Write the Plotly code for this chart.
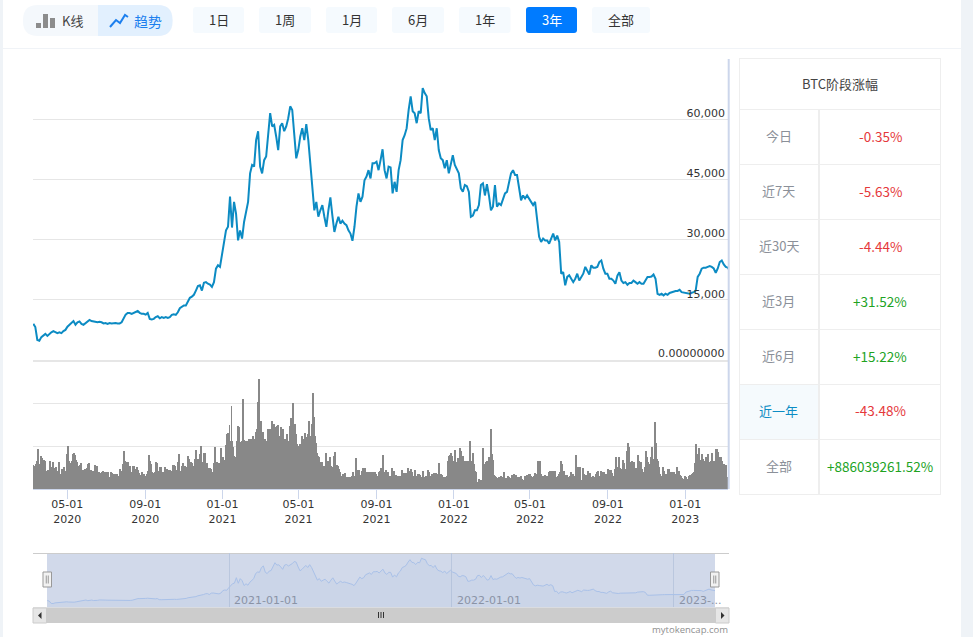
import pandas as pd
import plotly.graph_objects as go

W, H = 973, 637
CJK = "Noto Sans CJK SC"

price_k = [
9.0,8.2,5.0,4.8,5.7,6.1,6.5,6.0,6.5,6.9,7.2,6.9,6.7,6.9,6.7,7.2,7.5,8.3,8.75,9.0,9.7,8.8,9.4,9.6,9.0,8.75,9.2,9.8,10.0,9.7,
9.6,9.5,9.4,9.5,9.4,9.1,9.2,9.0,9.2,9.1,9.2,9.2,9.1,9.1,9.4,
10.2,11.3,11.7,11.7,11.5,11.7,11.9,12.2,11.75,11.5,11.5,11.3,11.7,10.25,10.1,10.25,10.7,10.9,10.4,10.7,10.5,10.7,10.5,10.7,11.25,11.4,11.25,11.9,12.9,13.3,13.6,13.6,14.4,15.5,15.8,16.25,17.3,18.4,18.6,17.3,19.25,19.4,19.0,18.8,18.2,19.4,22.75,23.6,23.2,26.5,29,32.3,33.2,40.7,33,39.4,36.5,29.8,32.3,30.25,34.4,37.3,39.4,46.5,48.6,48.2,54.8,57,48.2,46.5,49.8,50.7,55.7,61.5,58.2,58.6,55.7,52.3,58.2,59,57,58.2,60.25,63.2,62.3,55.7,50.25,52.3,55.7,57.75,54.8,58.8,54.8,49,44,37.3,39.4,35.7,37.3,38.6,35.7,33.2,37.3,40.5,36,31.9,34,35.7,34,34.7,34,33.6,32.3,31.5,29.7,33.2,38.2,41.5,39.4,40.7,44.8,45.7,47.3,45.25,49,49,49.4,47.3,49.8,
52.5,47.3,45.25,48.2,48,41.5,44.4,41.9,47.3,49.8,54.8,56,57.75,62.3,65.7,62,61.5,59,62,61.5,67.75,66.5,65.7,60.25,57.3,57.75,54.8,57.75,52.3,50.25,49.8,47.75,49.8,46.5,49,51,48.6,47.3,46.5,42.75,41.9,43.6,43.3,41.9,35.7,36,37.3,37.3,38.6,43.6,44,41,43.8,41,37.3,38.2,43.6,38.2,39,38.6,40.25,41.5,41.9,44,46.5,47.3,46.1,46.1,42.75,39.8,41,40.25,41,40.25,39.4,38.6,39.4,35.7,30.7,29.4,30.25,29.8,29.8,29,30.25,31.5,29.8,31,29.4,21.5,21.9,18.6,20.7,21.1,20.25,19.4,20.25,21.5,19.8,20.7,21.5,23.2,22.3,21.3,23.6,23,23,23.2,24.4,24.8,22.75,21.5,21.5,20.25,20.25,19.8,19,21,21.9,19.8,19.2,19.4,18.75,19.2,19.2,19.8,19.4,19,19.4,19,19,19.7,20.7,20.7,20.8,21.3,20.25,16.5,16.25,16.5,16.1,16.5,16.25,16.7,16.9,17.1,17.2,17.2,17.5,16.9,16.8,16.75,16.7,16.5,16.75,16.9,17.3,20.7,21.5,22.75,23,23,23.2,23.4,23.2,22.8,21.7,22.8,24.4,24.8,23.8,23.2,23,22.3]

# relative traded volume (the chart's lower panel carries no scale labels)
volume_a = [75,72,57,77,85,122,57,77,102,95,72,89,87,57,57,60,52,85,67,59,82,62,65,67,57,52,82,47,47,62,52,69,47,57,107,132,87,79,79,87,107,111,105,89,82,72,72,75,79,59,60,57,62,57,65,77,79,57,59,50,57,42,75,42,72,52,52,50,37,52,57,52,54,52,52,52,39,39,54,49,47,42,47,47,47,42,39,62,49,57,77,117,87,67,84,84,57,72,52,49,72,72,62,57,69,59,49,45,35,54,47,47,35,42,47,57,105,87,77,52,49,49,52,84,79,49,55,69,69,52,49,52,67,52,62,45,59,59,55]
volume_b = [57,75,75,72,47,59,84,107,57,52,70,80,70,72,62,67,102,92,67,84,80,72,64,92,120,87,92,90,107,132,82,70,110,110,72,80,64,50,65,62,54,47,80,129,77,82,80,80,79,124,90,99,89,134,167,170,170,194,145,252,147,127,102,99,147,192,189,122,142,147,272,150,147,142,145,142,152,140,152,137,160,137,152,174,182,264,332,197,207,137,172,147,152,132,147,182,182,182,147,207,172,197,152,189,192,194,137,162,187,147,182,152,152,142,167,147,137,192,215,197,260,157,197,167,137,130,132,137,110,162,147,152,170,147,157,167,207,152,162,197,290,217,162,139,110,102,97,67,84,84,67,70,67,110,67,87,64,97,70,67,64,102,114,74,74,70,62,52,42,39]
volume_c = [47,45,49,37,34,37,35,37,29,42,52,39,42,94,59,47,59,42,45,57,65,65,65,52,52,49,54,49,54,49,54,49,52,47,42,39,52,57,64,49,105,52,42,59,49,52,42,42,39,65,57,57,45,45,42,42,42,32,42,59,42,49,49,47,49,65,52,57,62,52,42,42,59,42,39,47,47,45,37,39,55,39,37,42,37,59,52,42,32,47,42,49,42,49,42,47,79,39,47,45,37,35,39,35,42,85,102,105,110,102,85,87,119,82,72,95,87,125,117,85,102,87,87,87,77,87,87,147,87,87,110,77,57,52,22,17,32,19,29,25]
volume_d = [125,67,77,82,87,82,97,82,182,107,89,45,42,37,25,35,37,37,42,20,39,52,35,27,35,42,37,35,35,45,35,47,32,45,37,29,37,25,42,32,29,24,42,37,45,35,47,47,42,37,32,42,49,29,47,87,62,87,47,32,42,37,45,24,42,42,52,55,29,57,57,25,57,37,32,42,47,52,87,77,42,57,39,44,44,37,35,42,52,32,47,42,42,105,69,67,52,69,29,27,65,47,32,45,29,57,42,49,37,35,42,37,19,47,52,55,42,37,55,52,37,52,47]
volume_e = [47,37,62,32,59,59,49,35,42,62,97,67,67,99,64,62,62,89,79,32,62,115,140,127,67,82,87,62,82,29,65,62,105,87,37,82,62,52,47,67,117,97,82,77,57,99,129,82,92,204,140,92,87,67,47,42,37,67,57,42,47,37,62,62,49,52,42,52,54,35,47,69,52,57,45,42,35,32,27,42,37,32,25,42,45,22,47,49,52,79,137,107,77,125,87,89,107,92,72,87,97,72,107,82,79,87,109,77,85,87,122,122,112,97,95,97,85,72,77,72,75,37,37]
volume = volume_a + volume_b + volume_c + volume_d + volume_e

tick_dates = ["2020-05-01", "2020-09-01", "2021-01-01", "2021-05-01", "2021-09-01", "2022-01-01", "2022-05-01", "2022-09-01", "2023-01-01"]
tick_labels = ["05-01<br>2020", "09-01<br>2020", "01-01<br>2021", "05-01<br>2021", "09-01<br>2021", "01-01<br>2022", "05-01<br>2022", "09-01<br>2022", "01-01<br>2023"]
price_ticks = [0, 15000, 30000, 45000, 60000, 75000]
price_tick_labels = ["", "15,000", "30,000", "45,000", "60,000", ""]
price_zero_label = "0.00000000"
volume_ticks = [0, 129, 258]
nav_ticks = ["2021-01-01", "2022-01-01", "2023-01-01"]
nav_labels = ["2021-01-01", "2022-01-01", "2023-..."]

range_buttons = ["1日", "1周", "1月", "6月", "1年", "3年", "全部"]
table_title = "BTC阶段涨幅"
table_periods = ["今日", "近7天", "近30天", "近3月", "近6月", "近一年", "全部"]
table_changes = ["-0.35%", "-5.63%", "-4.44%", "+31.52%", "+15.22%", "-43.48%", "+886039261.52%"]

price = [v * 1000 for v in price_k]
dates_p = pd.date_range("2020-03-08 12:00", periods=len(price), freq="76h")
VOL_STEP_MIN = 2274
dates_v = pd.date_range("2020-03-08 12:00", periods=len(volume), freq=f"{VOL_STEP_MIN}min")
x_range = ["2020-03-08", "2023-03-09 12:00"]


def px(x):
    return x / W


def py(y):
    return 1 - y / H


def rect(x0, y0, x1, y1, fill, line=None, lw=1):
    return dict(type="rect", xref="paper", yref="paper", x0=px(x0), x1=px(x1), y0=py(y1), y1=py(y0),
                fillcolor=fill, line=dict(color=line or "rgba(0,0,0,0)", width=lw if line else 0), layer="below")


def hline(x0, x1, y, color, lw=1, layer="below"):
    return dict(type="line", xref="paper", yref="paper", x0=px(x0), x1=px(x1), y0=py(y), y1=py(y),
                line=dict(color=color, width=lw), layer=layer)


def vline(x, y0, y1, color, lw=1, layer="below"):
    return dict(type="line", xref="paper", yref="paper", x0=px(x), x1=px(x), y0=py(y0), y1=py(y1),
                line=dict(color=color, width=lw), layer=layer)


def poly(points, fill=None, line=None, lw=0, layer="above", close=True):
    d = "M" + " L".join(f"{px(a):.5f},{py(b):.5f}" for a, b in points) + (" Z" if close else "")
    return dict(type="path", xref="paper", yref="paper", path=d, fillcolor=fill or "rgba(0,0,0,0)",
                line=dict(color=line or "rgba(0,0,0,0)", width=lw), layer=layer)


def rrect(x0, y0, x1, y1, r, fill, left=True, right=True):
    X = lambda a: f"{px(a):.5f}"
    Y = lambda b: f"{py(b):.5f}"
    d = f"M{X(x0 + (r if left else 0))},{Y(y0)} L{X(x1 - (r if right else 0))},{Y(y0)} "
    d += f"Q{X(x1)},{Y(y0)} {X(x1)},{Y(y0 + r)} L{X(x1)},{Y(y1 - r)} Q{X(x1)},{Y(y1)} {X(x1 - r)},{Y(y1)} " if right else f"L{X(x1)},{Y(y1)} "
    d += f"L{X(x0 + (r if left else 0))},{Y(y1)} "
    d += f"Q{X(x0)},{Y(y1)} {X(x0)},{Y(y1 - r)} L{X(x0)},{Y(y0 + r)} Q{X(x0)},{Y(y0)} {X(x0 + r)},{Y(y0)} Z" if left else f"L{X(x0)},{Y(y0)} Z"
    return dict(type="path", xref="paper", yref="paper", path=d, fillcolor=fill, line=dict(width=0), layer="below")


def label(x, y, text, color="#333333", size=13, anchor="center", family=CJK):
    return dict(xref="paper", yref="paper", x=px(x), y=py(y), text=text, showarrow=False, xanchor=anchor,
                yanchor="middle", font=dict(size=size, color=color, family=family), xshift=0, yshift=0)


shapes, notes = [], []

# page chrome
shapes += [rect(0, 0, 3, H, "#eff3f7"), rect(961, 0, W, H, "#eff3f7"), hline(3, 961, 48.5, "#f0f3f7")]

# chart style toggle
shapes += [rrect(23, 5, 172.5, 36, 15, "#f4f8fc"), rrect(98, 5, 172.5, 36, 15, "#e2f0fe", left=False)]
for bx0, bx1, bt in [(36, 41, 23), (43, 48, 14), (50, 55, 18)]:
    shapes.append(rect(bx0, bt, bx1, 28, "#8c8c8c"))
shapes.append(poly([(110, 27), (116, 20), (120, 23), (125, 15), (128, 17)], line="#1c7fee", lw=2, close=False))
notes += [label(72, 20.5, "K线", "#444444", 13), label(148, 20.5, "趋势", "#1c7fee", 14)]

# range buttons
button_spans = [(193, 244), (259, 311), (326, 377), (392, 444), (459, 510.5), (526, 577), (592, 650)]
for text, (a, b) in zip(range_buttons, button_spans):
    active = text == "3年"
    shapes.append(rrect(a, 7, b, 33, 3, "#007bff" if active else "#f5fafe"))
    notes.append(label((a + b) / 2, 20, text, "#ffffff" if active else "#333333", 13))

# plot edges
shapes.append(vline(728.7, 59, 489, "#ccd6eb", 2, "above"))

# navigator chrome
shapes += [rect(47, 553.5, 715, 607.5, "#d1d9ea"), hline(33, 729, 553.5, "#cccccc"),
           rect(33, 607.5, 729, 623, "#cccccc"), rect(33, 608, 46.5, 623, "#e6e6e6", "#cccccc"),
           rect(715.5, 608, 729, 623, "#e6e6e6", "#cccccc")]
for gx in (378.5, 381, 383.5):
    shapes.append(vline(gx, 612, 618, "#333333", 1, "above"))
shapes += [poly([(41.5, 612), (38, 615.5), (41.5, 619)], fill="#333333"), poly([(721, 612), (724.5, 615.5), (721, 619)], fill="#333333")]
for a, b in [(43, 51.5), (710.5, 719)]:
    shapes.append(dict(rect(a, 572, b, 587, "#f2f2f2", "#999999", 1), layer="above"))
    shapes.append(vline((a + b) / 2 - 1, 575.5, 583.5, "#999999", 1, "above"))
    shapes.append(vline((a + b) / 2 + 1, 575.5, 583.5, "#999999", 1, "above"))
notes.append(label(730, 629, "mytokencap.com", "#8f8f8f", 9.5, "right", "Open Sans"))

# period table
TL, TM, TR, TT, THDR, RH = 739, 819, 941, 58, 109, 55
TB = THDR + RH * len(table_periods)
shapes.append(rect(TL, 385, TM - 1, 439, "#f5fafd"))
shapes += [hline(TL, TR, TT + 0.5, "#eeeeee"), vline(TL + 0.5, TT, TB, "#eeeeee"), vline(TR - 0.5, TT, TB, "#eeeeee"),
           vline(TM, THDR, TB, "#eeeeee", 2)]
for i in range(len(table_periods) + 1):
    shapes.append(hline(TL, TR, THDR + RH * i + 0.5, "#eeeeee"))
notes.append(label((TL + TR) / 2, 83.5, table_title, "#444444", 13))
for i, (p, c) in enumerate(zip(table_periods, table_changes)):
    yc = THDR + RH * i + 26.5
    notes.append(label((TL + TM) / 2 - 0.5, yc, p, "#0c8cc4" if p == "近一年" else "#8b9099", 13))
    notes.append(label((TM + TR) / 2, yc, c, "#21a31f" if c.startswith("+") else "#e5383b", 13.5))

# navigator labels
for d, t in zip(nav_ticks, nav_labels):
    notes.append(dict(xref="x3", yref="paper", x=d, y=py(600), text=t, showarrow=False, xanchor="left", yanchor="middle",
                      xshift=3, font=dict(size=11, color="#8a93a6", family="DejaVu Sans")))

tickfont = dict(family="DejaVu Sans", size=11, color="#333333")
notes.append(dict(xref="paper", yref="y", x=px(724.5), y=0, text=price_zero_label, showarrow=False, xanchor="right",
                  yanchor="middle", yshift=6.5, xshift=0, font=tickfont, borderpad=0))

fig = go.Figure()
fig.add_trace(go.Scatter(x=dates_p, y=price, mode="lines", xaxis="x2", yaxis="y",
                         line=dict(color="#0c8bc3", width=2), hoverinfo="skip"))
fig.add_trace(go.Bar(x=dates_v, y=volume, xaxis="x", yaxis="y2", marker=dict(color="#888888", line=dict(width=0)),
                     width=VOL_STEP_MIN * 60 * 1000, hoverinfo="skip"))
fig.add_trace(go.Scatter(x=dates_p, y=price, mode="lines", xaxis="x3", yaxis="y3", fill="tozeroy",
                         fillcolor="rgba(120,150,205,0.06)", line=dict(color="#a9c1e8", width=1), hoverinfo="skip"))

fig.update_layout(
    width=W, height=H, margin=dict(l=0, r=0, t=0, b=0), paper_bgcolor="white", plot_bgcolor="rgba(0,0,0,0)",
    showlegend=False, bargap=0, shapes=shapes, annotations=notes,
    xaxis=dict(domain=[px(33), px(728)], range=x_range, type="date", anchor="y2", tickmode="array", tickvals=tick_dates,
               ticktext=tick_labels, ticks="outside", ticklen=9, tickwidth=1, tickcolor="#ccd6eb", showgrid=False,
               showline=True, linecolor="#ccd6eb", linewidth=1, tickfont=tickfont, zeroline=False, ticklabelstandoff=-4),
    xaxis2=dict(domain=[px(33), px(728)], range=x_range, type="date", anchor="y", showticklabels=False, ticks="",
                showgrid=False, showline=True, linecolor="#e6e6e6", linewidth=2, zeroline=False),
    xaxis3=dict(domain=[px(47), px(715)], range=x_range, type="date", anchor="y3", tickmode="array", tickvals=nav_ticks,
                showticklabels=False, ticks="", showgrid=True, gridcolor="#bac7de", gridwidth=1, zeroline=False),
    yaxis=dict(domain=[py(360), py(59)], range=[0, 75000], anchor="x2", side="right", tickmode="array", tickvals=price_ticks,
               ticktext=price_tick_labels, ticklabelposition="inside", ticklabelshift=-6, ticks="", gridcolor="#e6e6e6",
               gridwidth=1, showline=False, zeroline=False, tickfont=tickfont),
    yaxis2=dict(domain=[py(489), py(360.5)], range=[0, 385.5], anchor="x", tickmode="array", tickvals=volume_ticks,
                showticklabels=False, ticks="", gridcolor="#e6e6e6", gridwidth=1, zeroline=False),
    yaxis3=dict(domain=[py(607), py(553)], range=[0, 75000], anchor="x3", showticklabels=False, ticks="", showgrid=False,
                zeroline=False),
)

fig.write_html("out.html", config=dict(displayModeBar=False),
               post_script="document.body.style.margin='0';document.body.style.overflow='hidden';")
